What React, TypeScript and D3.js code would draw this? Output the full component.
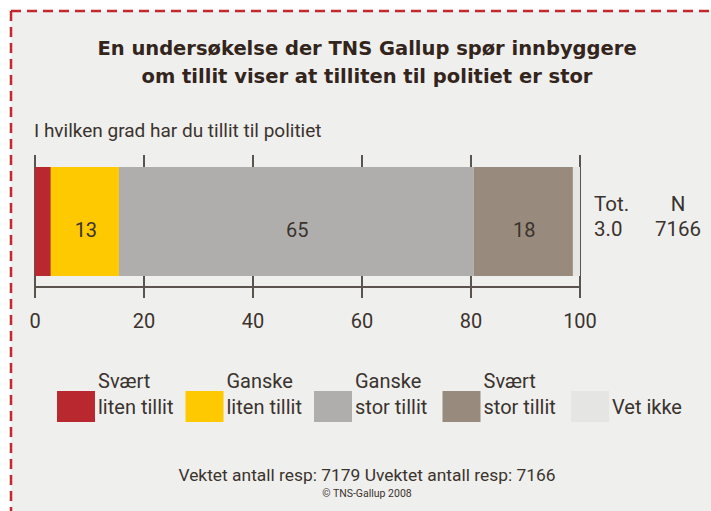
import { scaleLinear } from "d3";

const categories = ["Svært liten tillit", "Ganske liten tillit", "Ganske stor tillit", "Svært stor tillit", "Vet ikke"];
const legendLines = [
  ["Svært", "liten tillit"],
  ["Ganske", "liten tillit"],
  ["Ganske", "stor tillit"],
  ["Svært", "stor tillit"],
  ["", "Vet ikke"],
];
const values = [2.9, 12.5, 65.1, 18.2, 1.3];
const colors = ["#b9282f", "#ffc900", "#afaead", "#988a7d", "#e5e5e4"];
const ticks = [0, 20, 40, 60, 80, 100];
const total = "3.0";
const nResp = "7166";

const W = 711;
const H = 511;
const font = "Roboto, 'DejaVu Sans', sans-serif";
const titleFont = "'DejaVu Sans', Arial, sans-serif";
const ink = "#3b332d";

const App = () => {
  const x = scaleLinear().domain([0, 100]).range([35, 580]);
  const barTop = 167;
  const barBottom = 276;
  const axisY = 287;

  let acc = 0;
  const segs = values.map((v, i) => {
    const s = { start: acc, end: acc + v, v, color: colors[i], name: categories[i] };
    acc += v;
    return s;
  });

  return (
    <svg width={W} height={H} style={{ position: "absolute", left: 0, top: 0 }} fontFamily={font}>
      <rect x={11} y={11} width={W} height={H} fill="#efefed" />
      <line x1={11} y1={11} x2={W} y2={11} stroke="#c4262e" strokeWidth={2.5} strokeDasharray="10 6" />
      <line x1={11} y1={11} x2={11} y2={H} stroke="#c4262e" strokeWidth={2.5} strokeDasharray="10 6" />

      <text x={367} y={55} textAnchor="middle" fontFamily={titleFont} fontWeight="bold" fontSize={19.5} fill="#33251c">
        En undersøkelse der TNS Gallup spør innbyggere
      </text>
      <text x={367} y={83} textAnchor="middle" fontFamily={titleFont} fontWeight="bold" fontSize={19.5} fill="#33251c">
        om tillit viser at tilliten til politiet er stor
      </text>

      <text x={34} y={137} fontSize={19} fill={ink}>
        I hvilken grad har du tillit til politiet
      </text>

      {ticks.map((t) => (
        <line key={`g-${t}`} x1={x(t)} x2={x(t)} y1={155} y2={298} stroke="#5b544e" strokeWidth={2} />
      ))}
      <line x1={x(0)} x2={x(100)} y1={axisY} y2={axisY} stroke="#5b544e" strokeWidth={2} />

      {segs.map((s) => (
        <rect key={s.name} x={x(s.start)} y={barTop} width={x(s.end) - x(s.start)} height={barBottom - barTop} fill={s.color} />
      ))}
      {segs
        .filter((s) => s.v >= 10)
        .map((s) => (
          <text
            key={`l-${s.name}`}
            x={(x(s.start) + x(s.end)) / 2 + 1}
            y={237}
            textAnchor="middle"
            fontSize={20}
            fill={ink}
          >
            {Math.round(s.v)}
          </text>
        ))}

      {ticks.map((t) => (
        <text key={`t-${t}`} x={x(t)} y={328} textAnchor="middle" fontSize={20} fill={ink}>
          {t}
        </text>
      ))}

      <text x={594} y={211} fontSize={20.5} fill={ink}>Tot.</text>
      <text x={594} y={236} fontSize={20.5} fill={ink}>{total}</text>
      <text x={678} y={211} textAnchor="middle" fontSize={20.5} fill={ink}>N</text>
      <text x={678} y={236} textAnchor="middle" fontSize={20.5} fill={ink}>{nResp}</text>

      {categories.map((c, i) => {
        const sx = 57 + i * 128.5;
        return (
          <g key={`lg-${c}`}>
            <rect x={sx} y={391} width={38} height={31} fill={colors[i]} />
            <text x={sx + 41} y={388} fontSize={20} fill={ink}>{legendLines[i][0]}</text>
            <text x={sx + 41} y={414} fontSize={20} fill={ink}>{legendLines[i][1]}</text>
          </g>
        );
      })}

      <text x={367} y={481} textAnchor="middle" fontSize={17.4} fill={ink}>
        Vektet antall resp: 7179 Uvektet antall resp: 7166
      </text>
      <text x={367} y={497} textAnchor="middle" fontSize={10.5} fill={ink}>
        © TNS-Gallup 2008
      </text>
    </svg>
  );
};

export default App;
